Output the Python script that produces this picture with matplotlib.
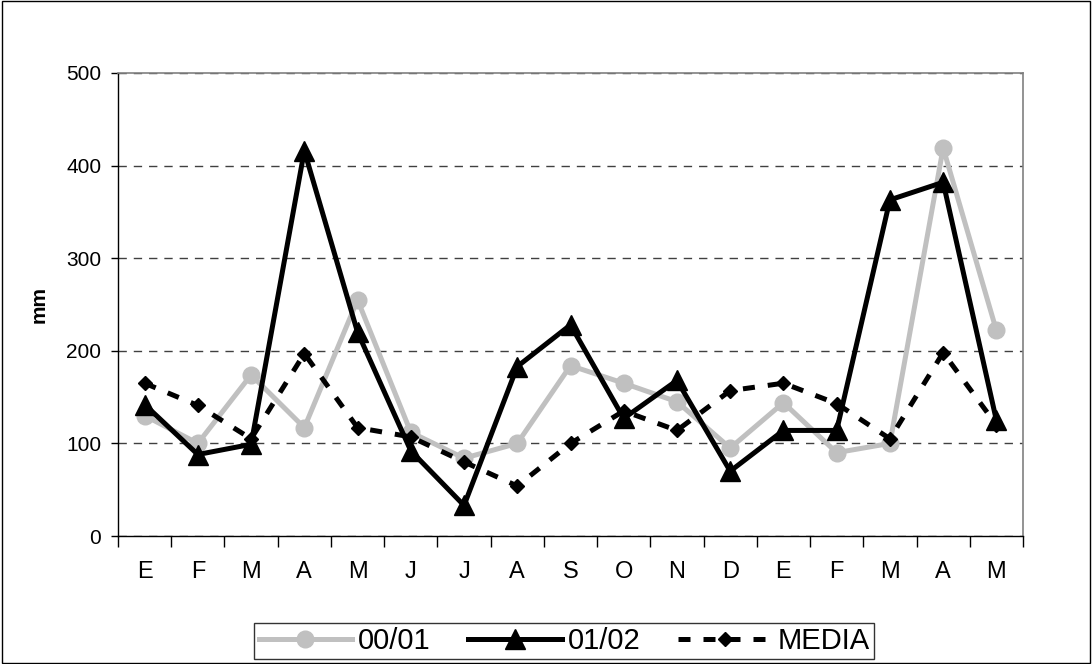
import matplotlib.pyplot as plt
from matplotlib.patches import Rectangle

plt.rcParams["font.family"] = ["Liberation Sans", "DejaVu Sans"]

months = ["E", "F", "M", "A", "M", "J", "J", "A", "S", "O", "N", "D", "E", "F", "M", "A", "M"]
s0001 = [130, 100, 174, 117, 255, 112, 84, 100, 184, 165, 145, 95, 144, 90, 100, 419, 222]
s0102 = [142, 88, 99, 416, 220, 92, 33, 183, 228, 127, 168, 70, 114, 114, 363, 382, 125]
media = [165, 141, 105, 197, 117, 107, 80, 54, 100, 135, 114, 157, 165, 143, 105, 198, 120]

fig = plt.figure(figsize=(10.92, 6.64), dpi=100)
ax = fig.add_axes([118 / 1092, 1 - 536 / 664, 905 / 1092, 463 / 664])

x = list(range(len(months)))
ax.plot(x, s0001, color="#c0c0c0", lw=3.6, marker="o", ms=12, label="00/01", zorder=3)
ax.plot(x, s0102, color="black", lw=3.6, marker="^", ms=14, label="01/02", zorder=4)
ax.plot(x, media, color="black", lw=3.6, marker="D", ms=7, dashes=(2.4, 2.6),
        label="MEDIA", zorder=5)

ax.set_xlim(-0.5, len(months) - 0.5)
ax.set_ylim(0, 500)
ax.set_yticks(range(0, 501, 100))
ax.set_xticks(x)
ax.set_xticklabels(months)
ax.set_xticks([i - 0.5 for i in range(len(months) + 1)], minor=True)
ax.tick_params(axis="x", which="major", length=0, pad=18, labelsize=17)
ax.tick_params(axis="x", which="minor", length=8, width=1, direction="out")
ax.tick_params(axis="y", length=5, width=1, labelsize=15, pad=7)
ax.set_ylabel("mm", fontsize=15, fontweight="bold", labelpad=13)

ax.yaxis.grid(True, color="#404040", ls=(0, (6, 5)), lw=1)
ax.set_axisbelow(True)
for side in ("top", "right"):
    ax.spines[side].set_color("#808080")
    ax.spines[side].set_linewidth(1.2)
for side in ("left", "bottom"):
    ax.spines[side].set_color("black")
    ax.spines[side].set_linewidth(1)

leg = fig.legend(loc="center", bbox_to_anchor=(564 / 1092, 1 - 641 / 664), ncol=3,
                 prop={"family": ["Liberation Sans Narrow", "Liberation Sans"], "size": 21},
                 frameon=True, fancybox=False, edgecolor="black",
                 handlelength=3.2, columnspacing=1.3, handletextpad=0.2, borderpad=0.15)
leg.get_frame().set_linewidth(1)

fig.patches.append(Rectangle((0.002, 0.002), 0.996, 0.996, transform=fig.transFigure,
                             fill=False, edgecolor="black", lw=1))

fig.savefig("out.png", dpi=100)
